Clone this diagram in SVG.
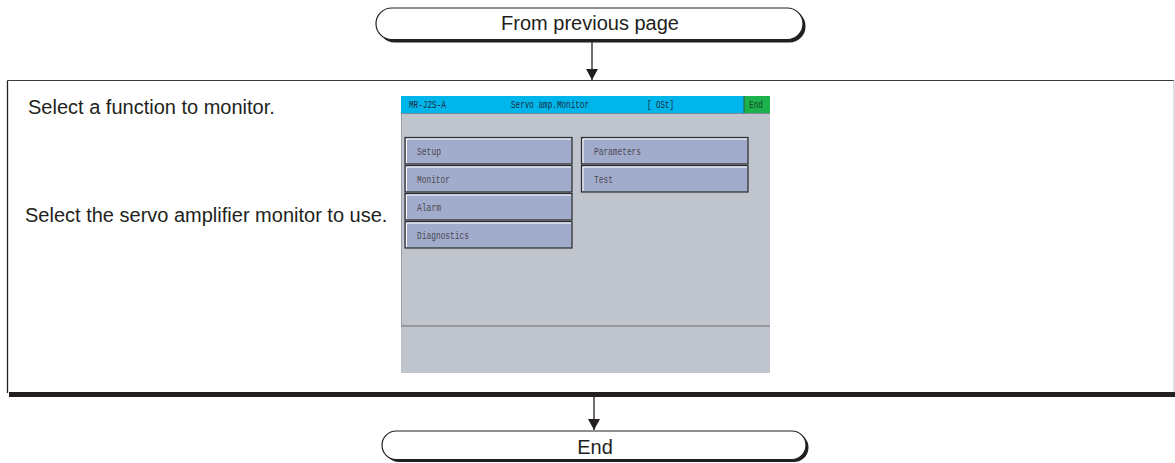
<svg xmlns="http://www.w3.org/2000/svg" width="1175" height="463" viewBox="0 0 1175 463">
<style>
.lbl{font-family:"Liberation Sans",Arial,sans-serif;font-size:20px;fill:#231f20}
.mono{font-family:"Liberation Mono","DejaVu Sans Mono",monospace;font-size:10px}
.btn{fill:#a1abcb;stroke:#2b2b2b;stroke-width:1.2}
.hl{stroke:#ffffff;stroke-width:1;fill:none}
.btxt{fill:#4a4a52}
.term{fill:#ffffff;stroke:#231f20;stroke-width:1.2}
.shadow{fill:#231f20}
.conn{stroke:#231f20;stroke-width:1.3;fill:none}
</style>
<defs>
<marker id="arr" markerWidth="12" markerHeight="12" refX="11" refY="6" orient="auto" markerUnits="userSpaceOnUse">
<path d="M0,0 L11,6 L0,12 Z" fill="#231f20"/>
</marker>
</defs>
<rect width="1175" height="463" fill="#ffffff"/>

<g id="start">
<rect class="shadow" x="378.5" y="10" width="427" height="32.5" rx="16" ry="16"/>
<rect class="term" x="376" y="8" width="427" height="31.5" rx="15.75" ry="15.75"/>
<text class="lbl" x="590" y="30" text-anchor="middle">From previous page</text>
</g>

<g id="step">
<rect x="9" y="392" width="1166" height="5" fill="#231f20"/>
<line x1="7.5" y1="80.5" x2="1174" y2="80.5" stroke="#3a3a3a" stroke-width="1.2"/>
<line x1="7.5" y1="80.5" x2="7.5" y2="393" stroke="#231f20" stroke-width="1.3"/>
<line x1="1174" y1="80.5" x2="1174" y2="392" stroke="#c8c8c8" stroke-width="1.2"/>
<text class="lbl" x="28" y="114">Select a function to monitor.</text>
<text class="lbl" x="25" y="222">Select the servo amplifier monitor to use.</text>
</g>

<g id="screen">
<rect x="401" y="96" width="369" height="277" fill="#c0c4cc"/>
<line x1="401.5" y1="113" x2="401.5" y2="326" stroke="#9a9ea6" stroke-width="1"/>
<rect x="401" y="96" width="343" height="17" fill="#00b5ea"/>
<rect x="744" y="96" width="26" height="17" fill="#1db14b"/>
<line x1="744" y1="96" x2="744" y2="113" stroke="#2a5a40" stroke-width="1"/>
<line x1="401" y1="113.5" x2="770" y2="113.5" stroke="#6a7a88" stroke-width="0.8"/>
<text class="mono" x="409" y="108" fill="#1c2a40" textLength="37" lengthAdjust="spacingAndGlyphs">MR-J2S-A</text>
<text class="mono" x="511" y="108" fill="#1c2a40" textLength="78" lengthAdjust="spacingAndGlyphs">Servo amp.Monitor</text>
<text class="mono" x="647" y="108" fill="#1c2a40" textLength="27" lengthAdjust="spacingAndGlyphs">[ OSt]</text>
<text class="mono" x="749" y="108" fill="#1a4a2a" textLength="14" lengthAdjust="spacingAndGlyphs">End</text>
<line x1="401" y1="326" x2="770" y2="326" stroke="#6e6e6e" stroke-width="1"/>
</g>

<g id="btn-setup">
<rect class="btn" x="405" y="137.5" width="167" height="26.5"/>
<path class="hl" d="M406.5,163 V139 H571"/>
<text class="mono btxt" x="417" y="155" textLength="24" lengthAdjust="spacingAndGlyphs">Setup</text>
</g>
<g id="btn-monitor">
<rect class="btn" x="405" y="165.5" width="167" height="26.5"/>
<path class="hl" d="M406.5,191 V167 H571"/>
<text class="mono btxt" x="417" y="183" textLength="33" lengthAdjust="spacingAndGlyphs">Monitor</text>
</g>
<g id="btn-alarm">
<rect class="btn" x="405" y="193.5" width="167" height="26.5"/>
<path class="hl" d="M406.5,219 V195 H571"/>
<text class="mono btxt" x="417" y="211" textLength="24" lengthAdjust="spacingAndGlyphs">Alarm</text>
</g>
<g id="btn-diagnostics">
<rect class="btn" x="405" y="221.5" width="167" height="26.5"/>
<path class="hl" d="M406.5,247 V223 H571"/>
<text class="mono btxt" x="417" y="239" textLength="52" lengthAdjust="spacingAndGlyphs">Diagnostics</text>
</g>
<g id="btn-parameters">
<rect class="btn" x="581.5" y="137.5" width="166.5" height="26.5"/>
<path class="hl" d="M583,163 V139 H747"/>
<text class="mono btxt" x="594" y="155" textLength="47" lengthAdjust="spacingAndGlyphs">Parameters</text>
</g>
<g id="btn-test">
<rect class="btn" x="581.5" y="165.5" width="166.5" height="26.5"/>
<path class="hl" d="M583,191 V167 H747"/>
<text class="mono btxt" x="594" y="183" textLength="19" lengthAdjust="spacingAndGlyphs">Test</text>
</g>

<g id="end">
<rect class="shadow" x="384.5" y="433" width="424" height="29" rx="14.5" ry="14.5"/>
<rect class="term" x="382" y="431" width="424" height="28.5" rx="14.25" ry="14.25"/>
<text class="lbl" x="595" y="454" text-anchor="middle">End</text>
</g>

<g id="connectors">
<line class="conn" x1="592" y1="42" x2="592" y2="80" marker-end="url(#arr)"/>
<line class="conn" x1="594" y1="397" x2="594" y2="430" marker-end="url(#arr)"/>
</g>
</svg>
